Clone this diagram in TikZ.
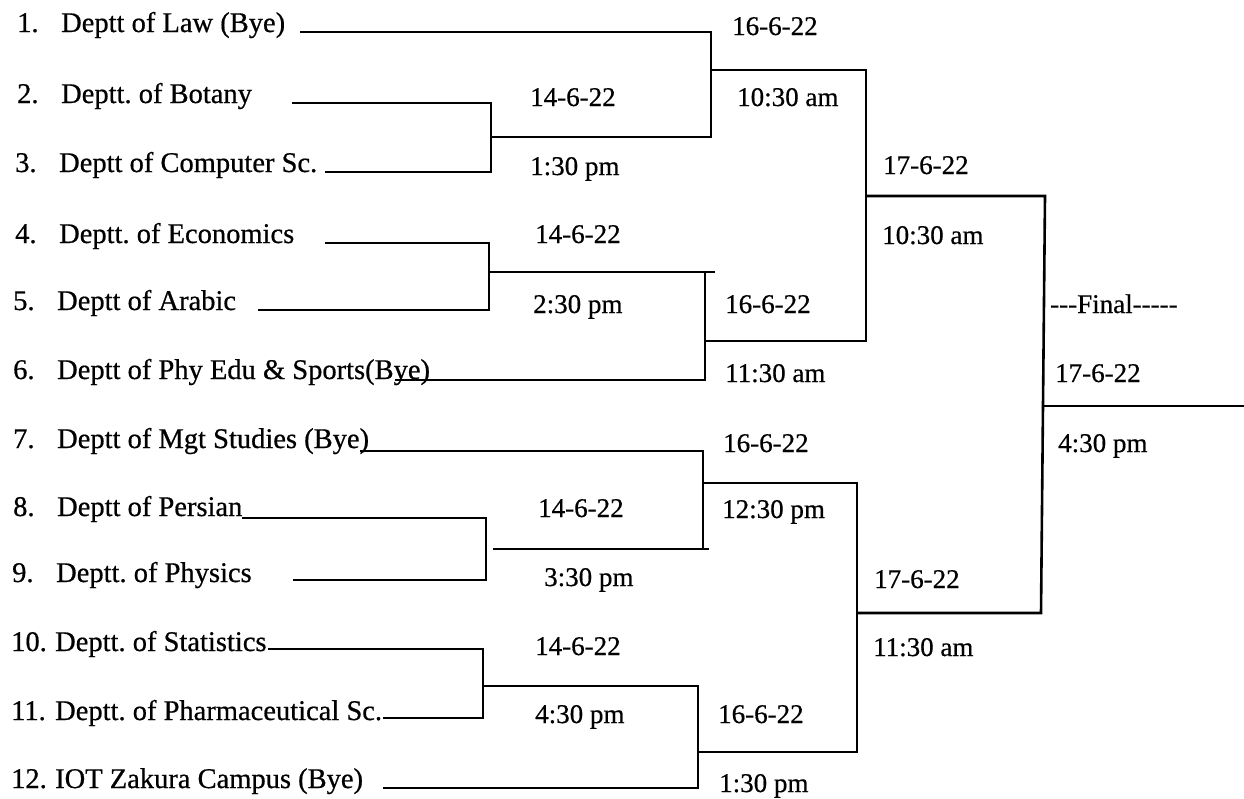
\documentclass[tikz,border=0pt]{standalone}
\usepackage{fontspec}
\setmainfont[FakeBold=0.6]{Liberation Serif}
\newcommand\hy{\mbox{-}}
\newcommand\numbox[1]{\makebox[44pt][l]{#1}}
\frenchspacing
\begin{document}
\begin{tikzpicture}[x=1pt,y=-1pt,
  lbl/.style={anchor=base west, inner sep=0pt, font=\fontsize{27}{30}\selectfont},
  team/.style={lbl, font=\fontsize{28.5}{31}\selectfont},
  ln/.style={line width=2.6pt, line join=miter}]
\useasboundingbox[fill=white] (0,0) rectangle (1244,798);

% team labels
\node[team] (t1)  at (17,32)  {\numbox{1.}Deptt of Law (Bye)};
\node[team] (t2)  at (17,103) {\numbox{2.}Deptt. of Botany};
\node[team] (t3)  at (15,172) {\numbox{3.}Deptt of Computer Sc.};
\node[team] (t4)  at (15,243) {\numbox{4.}Deptt. of Economics};
\node[team] (t5)  at (13,310) {\numbox{5.}Deptt of Arabic};
\node[team] (t6)  at (13,379) {\numbox{6.}Deptt of Phy Edu \& Sports(Bye)};
\node[team] (t7)  at (13,448) {\numbox{7.}Deptt of Mgt Studies (Bye)};
\node[team] (t8)  at (13,516) {\numbox{8.}Deptt of Persian};
\node[team] (t9)  at (12,582) {\numbox{9.}Deptt. of Physics};
\node[team] (t10) at (11,651) {\numbox{10.}Deptt. of Statistics};
\node[team] (t11) at (11,720) {\numbox{11.}Deptt. of Pharmaceutical Sc.};
\node[team] (t12) at (11,788) {\numbox{12.}IOT Zakura Campus (Bye)};

% match labels
\node[lbl] (d1a) at (530,106) {14-6-22};
\node[lbl] (d1b) at (530,175) {1:30 pm};
\node[lbl] (d2a) at (535,243) {14-6-22};
\node[lbl] (d2b) at (533,313) {2:30 pm};
\node[lbl] (d3a) at (538,517) {14-6-22};
\node[lbl] (d3b) at (544,586) {3:30 pm};
\node[lbl] (d4a) at (535,655) {14-6-22};
\node[lbl] (d4b) at (535,723) {4:30 pm};

\node[lbl] (q1a) at (732,35)  {16-6-22};
\node[lbl] (q1b) at (737,106) {10:30 am};
\node[lbl] (q2a) at (725,313) {16-6-22};
\node[lbl] (q2b) at (725,382) {11:30 am};
\node[lbl] (q3a) at (723,452) {16-6-22};
\node[lbl] (q3b) at (722,518) {12:30 pm};
\node[lbl] (q4a) at (718,723) {16-6-22};
\node[lbl] (q4b) at (719,792) {1:30 pm};

\node[lbl] (s1a) at (883,174) {17-6-22};
\node[lbl] (s1b) at (882,244) {10:30 am};
\node[lbl] (s2a) at (874,588) {17-6-22};
\node[lbl] (s2b) at (873,656) {11:30 am};

\node[lbl] (fa) at (1050,313) {\hy\hy\hy Final\hy\hy\hy\hy\hy};
\node[lbl] (fb) at (1055,382) {17-6-22};
\node[lbl] (fc) at (1058,452) {4:30 pm};

% line coordinates
\coordinate (r1) at (300,32);
\coordinate (r2) at (292,103);
\coordinate (r3) at (325,172);
\coordinate (r4) at (325,243);
\coordinate (r5) at (258,310);
\coordinate (r6) at (395,380);
\coordinate (r7) at (360,451);
\coordinate (r8) at (242,518);
\coordinate (r9) at (293,580);
\coordinate (r10) at (268,649);
\coordinate (r11) at (383,718);
\coordinate (r12) at (383,788);

\coordinate (a2) at (491,103);
\coordinate (a3) at (491,172);
\coordinate (a)  at (491,137);
\coordinate (b1) at (711,32);
\coordinate (b2) at (711,137);
\coordinate (bo) at (711,70);

\coordinate (c4) at (489,243);
\coordinate (c5) at (489,310);
\coordinate (c)  at (489,272);
\coordinate (ce) at (715,272);
\coordinate (dd1) at (705,272);
\coordinate (dd6) at (705,380);
\coordinate (dd)  at (705,341);

\coordinate (u1t) at (866,70);
\coordinate (u1b) at (866,341);
\coordinate (u1)  at (866,196);

\coordinate (g7) at (703,451);
\coordinate (ge) at (703,549);
\coordinate (g)  at (703,483);
\coordinate (e8) at (486,518);
\coordinate (e9) at (486,580);
\coordinate (e)  at (493,549);
\coordinate (ee) at (709,549);

\coordinate (h10) at (483,649);
\coordinate (h11) at (483,718);
\coordinate (h)   at (483,686);
\coordinate (k)   at (698,686);
\coordinate (k12) at (698,788);
\coordinate (ko)  at (698,752);

\coordinate (u2t) at (857,483);
\coordinate (u2b) at (857,752);
\coordinate (u2)  at (857,613);

\coordinate (f1) at (1045,196);
\coordinate (f2) at (1041,613);
\coordinate (fo) at (1043,406);
\coordinate (fe) at (1244,406);

% first round and quarter finals (top)
\draw[ln] (r1) -- (b1) -- (b2) -- (a);
\draw[ln] (r2) -- (a2) -- (a3) -- (r3);
\draw[ln] (bo) -- (u1t) -- (u1b) -- (dd);
\draw[ln] (r4) -- (c4) -- (c5) -- (r5);
\draw[ln] (c) -- (ce);
\draw[ln] (dd1) -- (dd6) -- (r6);
\draw[ln] (u1) -- (f1) -- (f2) -- (u2);

% bottom
\draw[ln] (r7) -- (g7) -- (ge);
\draw[ln] (r8) -- (e8) -- (e9) -- (r9);
\draw[ln] (e) -- (ee);
\draw[ln] (g) -- (u2t) -- (u2b) -- (ko);
\draw[ln] (r10) -- (h10) -- (h11) -- (r11);
\draw[ln] (h) -- (k) -- (k12) -- (r12);
\draw[ln] (fo) -- (fe);
\end{tikzpicture}
\end{document}
